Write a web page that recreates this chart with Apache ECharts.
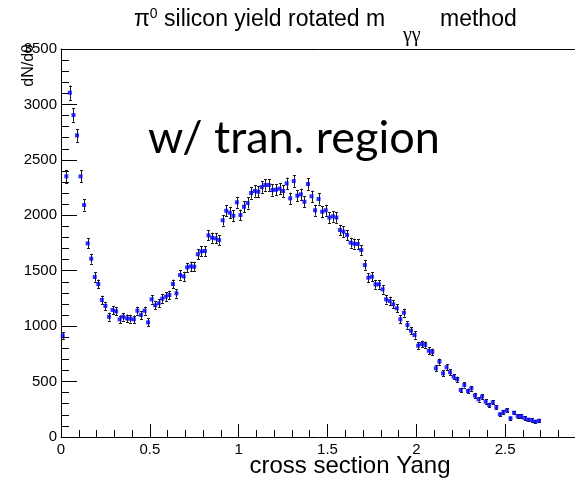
<!DOCTYPE html>
<html>
<head>
<meta charset="utf-8">
<script src="https://cdn.jsdelivr.net/npm/echarts@6/dist/echarts.min.js"></script>
<style>
  html, body { margin: 0; padding: 0; background: #fff; }
  #chart { width: 575px; height: 484px; }
</style>
</head>
<body>
<div id="chart"></div>
<script>
// Bin centres of the cross-section histogram (bin width 0.02)
const binCenters = [
  0.01, 0.03, 0.05, 0.07, 0.09, 0.11, 0.13, 0.15, 0.17, 0.19,
  0.21, 0.23, 0.25, 0.27, 0.29, 0.31, 0.33, 0.35, 0.37, 0.39,
  0.41, 0.43, 0.45, 0.47, 0.49, 0.51, 0.53, 0.55, 0.57, 0.59,
  0.61, 0.63, 0.65, 0.67, 0.69, 0.71, 0.73, 0.75, 0.77, 0.79,
  0.81, 0.83, 0.85, 0.87, 0.89, 0.91, 0.93, 0.95, 0.97, 0.99,
  1.01, 1.03, 1.05, 1.07, 1.09, 1.11, 1.13, 1.15, 1.17, 1.19,
  1.21, 1.23, 1.25, 1.27, 1.29, 1.31, 1.33, 1.35, 1.37, 1.39,
  1.41, 1.43, 1.45, 1.47, 1.49, 1.51, 1.53, 1.55, 1.57, 1.59,
  1.61, 1.63, 1.65, 1.67, 1.69, 1.71, 1.73, 1.75, 1.77, 1.79,
  1.81, 1.83, 1.85, 1.87, 1.89, 1.91, 1.93, 1.95, 1.97, 1.99,
  2.01, 2.03, 2.05, 2.07, 2.09, 2.11, 2.13, 2.15, 2.17, 2.19,
  2.21, 2.23, 2.25, 2.27, 2.29, 2.31, 2.33, 2.35, 2.37, 2.39,
  2.41, 2.43, 2.45, 2.47, 2.49, 2.51, 2.53, 2.55, 2.57, 2.59,
  2.61, 2.63, 2.65, 2.67, 2.69
];

// dN/dθ yield per bin
const yieldValues = [
  914, 2351, 3106, 2904, 2721, 2351, 2093, 1747, 1608, 1443,
  1380, 1236, 1182, 1085, 1146, 1134, 1061, 1085, 1070, 1067,
  1061, 1139, 1100, 1139, 1034, 1242, 1188, 1206, 1248, 1266,
  1281, 1380, 1296, 1461, 1449, 1530, 1539, 1536, 1648, 1675,
  1678, 1819, 1798, 1792, 1777, 1955, 2041, 2023, 1996, 2117,
  2002, 2077, 2111, 2201, 2219, 2213, 2255, 2273, 2273, 2228,
  2231, 2240, 2219, 2288, 2153, 2309, 2177, 2189, 2122, 2282,
  2171, 2045, 2147, 2032, 2045, 1980, 1990, 1980, 1867, 1852,
  1822, 1753, 1744, 1741, 1687, 1551, 1437, 1446, 1377, 1377,
  1332, 1242, 1227, 1197, 1161, 1062, 1121, 1010, 959, 920,
  824, 839, 830, 778, 767, 620, 679, 574, 629, 584,
  544, 520, 424, 469, 415, 439, 373, 340, 364, 319,
  289, 313, 268, 205, 226, 241, 169, 219, 189, 189,
  171, 156, 153, 138, 147
];

// Statistical uncertainty per bin
const yieldErrors = [
  32, 58, 64, 60, 58, 54, 50, 46, 44, 42,
  40, 38, 37, 36, 36, 35, 35, 35, 35, 35,
  35, 36, 36, 36, 35, 38, 37, 37, 38, 38,
  38, 40, 39, 41, 41, 42, 42, 42, 44, 44,
  44, 46, 46, 46, 46, 48, 49, 49, 48, 50,
  49, 50, 50, 51, 51, 51, 52, 52, 52, 51,
  51, 51, 51, 52, 51, 52, 51, 51, 50, 52,
  51, 49, 50, 49, 49, 48, 48, 48, 47, 47,
  46, 45, 45, 45, 44, 42, 41, 41, 40, 40,
  39, 38, 38, 37, 37, 35, 36, 34, 33, 33,
  31, 31, 31, 30, 30, 27, 28, 26, 27, 26,
  25, 25, 22, 23, 22, 22, 21, 20, 21, 20,
  19, 19, 18, 16, 17, 17, 15, 16, 15, 15,
  15, 14, 14, 13, 14
];

const xTicks = { min: 0, max: 3, interval: 0.5 };
const yTicks = { min: 0, max: 3500, interval: 500 };

const points = binCenters.map((x, i) => [x, yieldValues[i], yieldErrors[i]]);

const chart = echarts.init(document.getElementById('chart'), null, { renderer: 'canvas' });

const axisFont = 'Liberation Sans, Arial, sans-serif';

chart.setOption({
  backgroundColor: '#ffffff',
  animation: false,
  // the plotting frame runs a little past the right edge of the canvas
  grid: {
    left: 61, top: 49, width: 533, bottom: 47,
    containLabel: false, outerBoundsMode: 'none'
  },
  xAxis: [{
    type: 'value',
    min: xTicks.min, max: xTicks.max, interval: xTicks.interval,
    position: 'bottom',
    axisLine: { show: true, onZero: false, lineStyle: { color: '#000', width: 1 } },
    axisTick: { show: true, inside: true, length: 13, lineStyle: { color: '#000' } },
    minorTick: { show: true, splitNumber: 5, length: 7, lineStyle: { color: '#000' } },
    splitLine: { show: false },
    axisLabel: { fontFamily: axisFont, fontSize: 15, color: '#000', margin: 5, showMaxLabel: false }
  }, {
    type: 'value',
    min: xTicks.min, max: xTicks.max,
    position: 'top',
    axisLine: { show: true, onZero: false, lineStyle: { color: '#000', width: 1 } },
    axisTick: { show: false },
    axisLabel: { show: false },
    splitLine: { show: false }
  }],
  yAxis: {
    type: 'value',
    min: yTicks.min, max: yTicks.max, interval: yTicks.interval,
    axisLine: { show: true, onZero: false, lineStyle: { color: '#000', width: 1 } },
    axisTick: { show: true, inside: true, length: 16, lineStyle: { color: '#000' } },
    minorTick: { show: true, splitNumber: 5, length: 8, lineStyle: { color: '#000' } },
    splitLine: { show: false },
    axisLabel: {
      fontFamily: axisFont, fontSize: 15, color: '#000', margin: 4,
      formatter: function (v) { return String(v); }
    }
  },
  graphic: [
    // title: π⁰ silicon yield rotated m_γγ method
    {
      type: 'text',
      x: 134, y: 20,
      style: {
        text: '{a|π}{s|0}{a| silicon yield rotated m}',
        align: 'left', verticalAlign: 'middle',
        rich: {
          a: { fontFamily: axisFont, fontSize: 23, fill: '#000', lineHeight: 26 },
          s: { fontFamily: axisFont, fontSize: 14, fill: '#000', verticalAlign: 'top', lineHeight: 14 }
        }
      }
    },
    {
      type: 'text',
      x: 403, y: 36,
      style: {
        text: 'γγ',
        fontFamily: '"Liberation Serif", serif', fontSize: 20, fill: '#000',
        align: 'left', verticalAlign: 'middle'
      }
    },
    {
      type: 'text',
      x: 440, y: 20,
      style: {
        text: 'method',
        fontFamily: axisFont, fontSize: 23, fill: '#000',
        align: 'left', verticalAlign: 'middle'
      }
    },
    {
      type: 'text',
      x: 29, y: 44,
      rotation: Math.PI / 2,
      style: {
        text: 'dN/dθ',
        fontFamily: axisFont, fontSize: 16, fill: '#000',
        align: 'right', verticalAlign: 'middle'
      }
    },
    {
      type: 'text',
      x: 350, y: 466,
      style: {
        text: 'cross section Yang',
        fontFamily: axisFont, fontSize: 24, fill: '#000',
        align: 'center', verticalAlign: 'middle'
      }
    },
    {
      type: 'text',
      x: 294, y: 138,
      style: {
        text: 'w/ tran. region',
        fontFamily: 'Lato, "Open Sans", sans-serif', fontSize: 45, fill: '#000',
        align: 'center', verticalAlign: 'middle'
      }
    }
  ],
  series: [
    {
      // vertical error bars with small end caps
      type: 'custom',
      xAxisIndex: 0,
      data: points,
      encode: { x: 0, y: 1 },
      renderItem: function (params, api) {
        const x = api.value(0), y = api.value(1), e = api.value(2);
        const hi = api.coord([x, y + e]);
        const lo = api.coord([x, y - e]);
        const cx = Math.round(hi[0]) + 0.5;
        const capW = 1.5;
        const ls = { stroke: '#1a1a1a', lineWidth: 1 };
        return {
          type: 'group',
          children: [
            { type: 'line', shape: { x1: cx, y1: hi[1], x2: cx, y2: lo[1] }, style: ls },
            { type: 'line', shape: { x1: cx - capW, y1: Math.round(hi[1]) + 0.5, x2: cx + capW, y2: Math.round(hi[1]) + 0.5 }, style: ls },
            { type: 'line', shape: { x1: cx - capW, y1: Math.round(lo[1]) + 0.5, x2: cx + capW, y2: Math.round(lo[1]) + 0.5 }, style: ls }
          ]
        };
      },
      z: 2
    },
    {
      type: 'scatter',
      xAxisIndex: 0,
      data: points.map(p => [p[0], p[1]]),
      symbol: 'rect',
      symbolSize: 4,
      itemStyle: { color: '#0000ff' },
      z: 3
    }
  ]
});
</script>
</body>
</html>
